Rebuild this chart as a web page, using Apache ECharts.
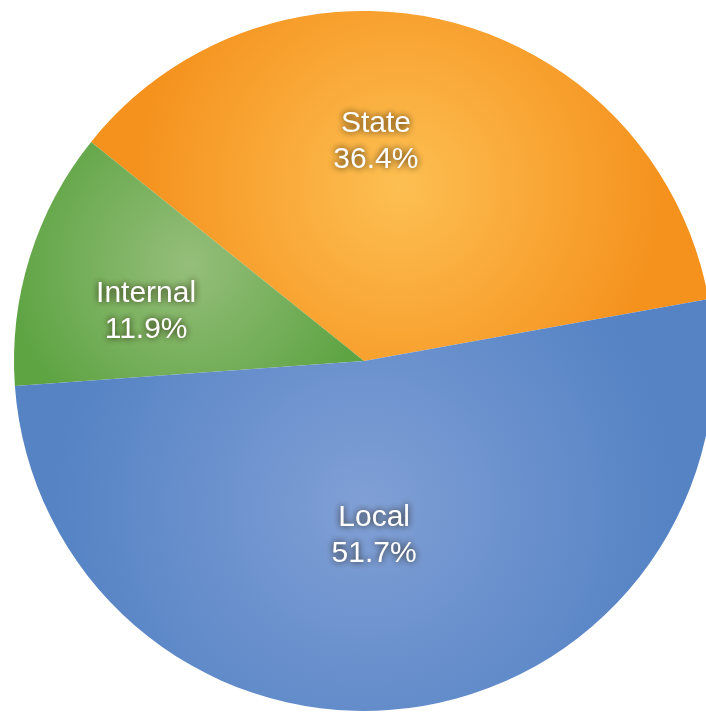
<!DOCTYPE html>
<html>
<head>
<meta charset="utf-8">
<script src="https://cdn.jsdelivr.net/npm/echarts@6/dist/echarts.min.js"></script>
<style>
  html, body { margin: 0; padding: 0; background: #fff; }
  #chart { width: 706px; height: 713px; }
</style>
</head>
<body>
<div id="chart"></div>
<script>
const categories = ['State', 'Internal', 'Local']
const shares = [36.4, 11.9, 51.7]

// slice colours: [light centre, darker rim]
const sliceColors = {
  State: ['#fdbf52', '#f5921e'],
  Internal: ['#95be7a', '#5ea443'],
  Local: ['#809fd6', '#5583c4']
}
// nudge each label to where the original puts it
const labelShift = {
  State: [-32, -47],
  Internal: [-48, 4],
  Local: [-12, -2]
}

const chart = echarts.init(document.getElementById('chart'))

const option = {
  animation: false,
  series: [{
    type: 'pie',
    center: [364, 361],
    radius: 350,
    startAngle: 10.2,
    clockwise: false,
    avoidLabelOverlap: false,
    label: {
      show: true,
      position: 'inside',
      formatter: function (p) {
        return p.name + '\n' + p.value.toFixed(1) + '%'
      },
      color: '#fff',
      fontFamily: 'Liberation Sans, Arial, sans-serif',
      fontSize: 30,
      lineHeight: 36,
      textShadowColor: 'rgba(30, 20, 0, 0.95)',
      textShadowBlur: 7
    },
    labelLine: { show: false },
    labelLayout: function (params) {
      const s = labelShift[categories[params.dataIndex]]
      return { dx: s[0], dy: s[1] }
    },
    emphasis: { disabled: true },
    itemStyle: { borderWidth: 0 },
    data: categories.map(function (name, i) {
      return {
        name: name,
        value: shares[i],
        itemStyle: {
          color: {
            type: 'radial',
            x: 0.5,
            y: 0.5,
            r: 0.75,
            colorStops: [
              { offset: 0, color: sliceColors[name][0] },
              { offset: 1, color: sliceColors[name][1] }
            ]
          }
        }
      }
    })
  }]
}

chart.setOption(option, true)
</script>
</body>
</html>
